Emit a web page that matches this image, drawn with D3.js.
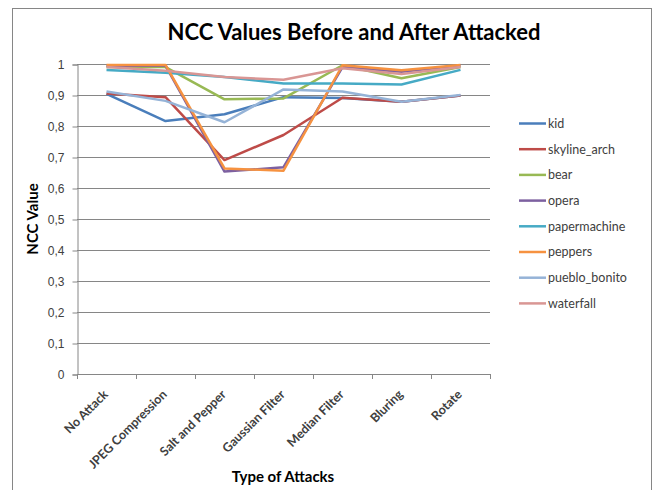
<!DOCTYPE html>
<html>
<head>
<meta charset="utf-8">
<script src="https://cdn.jsdelivr.net/npm/d3@7"></script>
<style>
  body { margin: 0; background: #fff; }
  svg { font-family: Lato, "DejaVu Sans", sans-serif; }
</style>
</head>
<body>
<div id="chart"></div>
<script>
// categories (x axis)
const attacks = ['No Attack', 'JPEG Compression', 'Salt and Pepper', 'Gaussian Filter', 'Median Filter', 'Bluring', 'Rotate'];
// y ticks + labels (comma decimals like the original)
const yTicks = [0, 0.1, 0.2, 0.3, 0.4, 0.5, 0.6, 0.7, 0.8, 0.9, 1];
const yTickLabels = ['0', '0,1', '0,2', '0,3', '0,4', '0,5', '0,6', '0,7', '0,8', '0,9', '1'];

// series values
const kid           = [0.904, 0.816, 0.838, 0.893, 0.890, 0.878, 0.898];
const skyline_arch  = [0.905, 0.893, 0.690, 0.771, 0.891, 0.878, 0.898];
const bear          = [0.990, 0.990, 0.886, 0.889, 0.996, 0.954, 0.990];
const opera         = [0.994, 0.995, 0.653, 0.667, 0.990, 0.975, 0.995];
const papermachine  = [0.981, 0.972, 0.958, 0.937, 0.937, 0.934, 0.981];
const peppers       = [0.997, 0.997, 0.663, 0.656, 0.996, 0.980, 0.997];
const pueblo_bonito = [0.911, 0.881, 0.812, 0.918, 0.911, 0.878, 0.900];
const waterfall     = [0.990, 0.978, 0.958, 0.949, 0.986, 0.968, 0.990];

const seriesNames = ['kid', 'skyline_arch', 'bear', 'opera', 'papermachine', 'peppers', 'pueblo_bonito', 'waterfall'];
const seriesValues = [kid, skyline_arch, bear, opera, papermachine, peppers, pueblo_bonito, waterfall];
const colors = ['#4A7EBB', '#BE4B48', '#98B954', '#7D60A0', '#46AAC5', '#F69240', '#95B3D7', '#D99694'];

const width = 655, height = 490;
const plot = {left: 77, right: 490, top: 64, bottom: 374};

const svg = d3.select('#chart').append('svg')
    .attr('width', width)
    .attr('height', height);

svg.append('rect')
    .attr('width', width).attr('height', height)
    .attr('fill', '#fff');

// outer chart frame
svg.append('rect')
    .attr('x', 12.5).attr('y', 8.5)
    .attr('width', 639).attr('height', 500)
    .attr('fill', 'none')
    .attr('stroke', '#868686')
    .attr('stroke-width', 1);

const x = d3.scaleBand().domain(attacks).range([plot.left, plot.right]);
const y = d3.scaleLinear().domain([0, 1]).range([plot.bottom, plot.top]);

// gridlines
svg.append('g')
    .selectAll('line')
    .data(yTicks.filter(d => d > 0))
    .enter().append('line')
    .attr('x1', plot.left).attr('x2', plot.right)
    .attr('y1', d => Math.round(y(d)) + 0.5)
    .attr('y2', d => Math.round(y(d)) + 0.5)
    .attr('stroke', '#868686');

// y axis
const yAxis = d3.axisLeft(y)
    .tickValues(yTicks)
    .tickSize(5)
    .tickPadding(8)
    .tickFormat((d, i) => yTickLabels[i]);
const gy = svg.append('g')
    .attr('transform', `translate(${plot.left + 0.5},0.5)`)
    .call(yAxis);
gy.select('.domain').attr('stroke', '#868686');
gy.selectAll('.tick line').attr('stroke', '#868686');
gy.selectAll('.tick text')
    .attr('fill', '#404040')
    .style('font-size', '12px');

// x axis: line + boundary ticks
const gx = svg.append('g');
gx.append('line')
    .attr('x1', plot.left).attr('x2', plot.right)
    .attr('y1', plot.bottom + 0.5).attr('y2', plot.bottom + 0.5)
    .attr('stroke', '#868686');
gx.selectAll('.bound')
    .data(attacks.map(d => x(d) + x.bandwidth()).concat([plot.left]))
    .enter().append('line')
    .attr('class', 'bound')
    .attr('x1', d => Math.round(d) + 0.5).attr('x2', d => Math.round(d) + 0.5)
    .attr('y1', plot.bottom).attr('y2', plot.bottom + 5)
    .attr('stroke', '#868686');
gx.selectAll('.xlab')
    .data(attacks)
    .enter().append('text')
    .attr('class', 'xlab')
    .attr('transform', d => `translate(${x(d) + x.bandwidth() / 2 - 4},${plot.bottom + 15}) rotate(-45)`)
    .attr('text-anchor', 'end')
    .attr('dy', '0.7em')
    .attr('fill', '#404040')
    .style('font-size', '12.5px')
    .style('font-weight', 'bold')
    .text(d => d);

// lines
const line = d3.line()
    .x((d, i) => x(attacks[i]) + x.bandwidth() / 2)
    .y(d => y(d));

svg.append('g')
    .selectAll('path')
    .data(seriesValues)
    .enter().append('path')
    .attr('d', d => line(d))
    .attr('fill', 'none')
    .attr('stroke', (d, i) => colors[i])
    .attr('stroke-width', 2.5)
    .attr('stroke-linejoin', 'round');

// legend
const legend = svg.append('g')
    .selectAll('g')
    .data(seriesNames)
    .enter().append('g')
    .attr('transform', (d, i) => `translate(519,${123.5 + i * 25.7})`);
legend.append('line')
    .attr('x1', 0).attr('x2', 27)
    .attr('stroke', (d, i) => colors[i])
    .attr('stroke-width', 2.5);
legend.append('text')
    .attr('x', 29)
    .attr('dy', '0.35em')
    .attr('fill', '#404040')
    .style('font-size', '12.5px')
    .text(d => d);

// titles
svg.append('text')
    .attr('x', 354).attr('y', 40)
    .attr('text-anchor', 'middle')
    .style('font-size', '22px')
    .style('font-weight', 'bold')
    .text('NCC Values Before and After Attacked');

svg.append('text')
    .attr('transform', 'translate(38,219) rotate(-90)')
    .attr('text-anchor', 'middle')
    .style('font-size', '15px')
    .style('font-weight', 'bold')
    .text('NCC Value');

svg.append('text')
    .attr('x', 283).attr('y', 482)
    .attr('text-anchor', 'middle')
    .style('font-size', '15px')
    .style('font-weight', 'bold')
    .text('Type of Attacks');
</script>
</body>
</html>
